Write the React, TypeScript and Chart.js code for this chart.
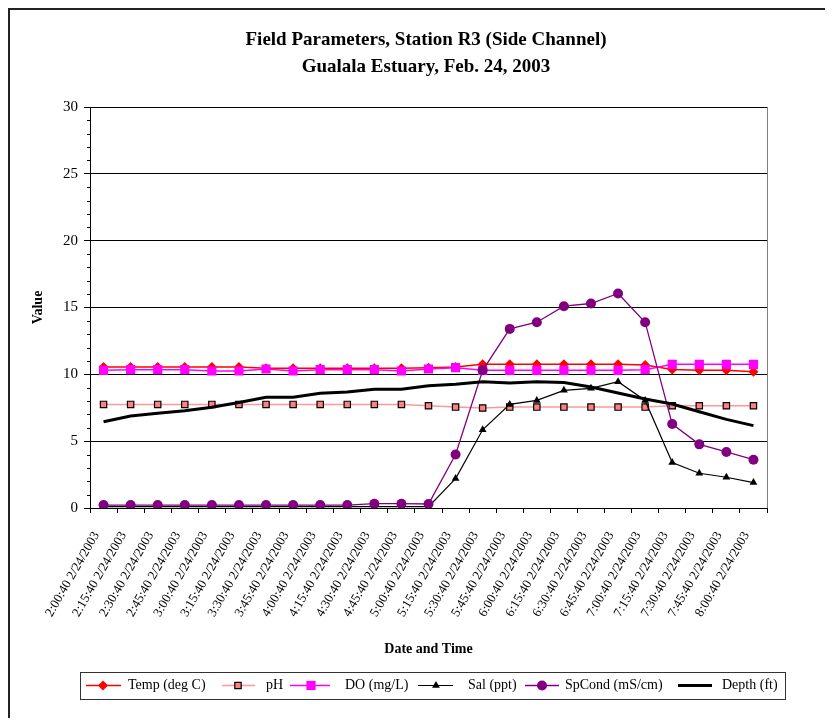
import React, { useEffect, useRef } from 'react';
import { Chart, registerables } from 'chart.js';

Chart.register(...registerables);

const timeLabels = [
  '2:00:40', '2:15:40', '2:30:40', '2:45:40', '3:00:40', '3:15:40', '3:30:40', '3:45:40',
  '4:00:40', '4:15:40', '4:30:40', '4:45:40', '5:00:40', '5:15:40', '5:30:40', '5:45:40',
  '6:00:40', '6:15:40', '6:30:40', '6:45:40', '7:00:40', '7:15:40', '7:30:40', '7:45:40', '8:00:40',
];
const dateLabel = '2/24/2003';
const categories = timeLabels.map((t) => `${t} ${dateLabel}`);

const tempValues = [10.55, 10.55, 10.55, 10.55, 10.55, 10.55, 10.45, 10.45, 10.45, 10.45, 10.45, 10.45, 10.5, 10.55, 10.75, 10.75, 10.75, 10.75, 10.75, 10.75, 10.7, 10.37, 10.3, 10.3, 10.2];
const phValues = [7.75, 7.75, 7.75, 7.75, 7.75, 7.75, 7.75, 7.75, 7.75, 7.75, 7.75, 7.75, 7.65, 7.55, 7.48, 7.55, 7.55, 7.55, 7.55, 7.55, 7.55, 7.65, 7.65, 7.65, 7.65];
const doValues = [10.3, 10.35, 10.35, 10.35, 10.25, 10.25, 10.4, 10.25, 10.35, 10.35, 10.35, 10.25, 10.4, 10.5, 10.3, 10.3, 10.3, 10.3, 10.3, 10.3, 10.35, 10.75, 10.75, 10.75, 10.75];
const salValues = [0.1, 0.1, 0.1, 0.1, 0.1, 0.1, 0.1, 0.1, 0.1, 0.1, 0.1, 0.1, 0.1, 2.2, 5.85, 7.75, 8.05, 8.8, 8.95, 9.45, 8.05, 3.4, 2.6, 2.3, 1.9];
const spCondValues = [0.22, 0.22, 0.22, 0.22, 0.22, 0.22, 0.22, 0.22, 0.22, 0.22, 0.32, 0.32, 0.3, 4.0, 10.3, 13.4, 13.9, 15.1, 15.3, 16.05, 13.9, 6.28, 4.76, 4.19, 3.61];
const depthValues = [6.45, 6.88, 7.08, 7.28, 7.53, 7.9, 8.28, 8.28, 8.58, 8.68, 8.88, 8.88, 9.15, 9.25, 9.45, 9.35, 9.45, 9.38, 9.05, 8.6, 8.15, 7.78, 7.2, 6.63, 6.16];

const yTicks = [0, 5, 10, 15, 20, 25, 30];
const titleLines = ['Field Parameters, Station R3 (Side Channel)', 'Gualala Estuary, Feb. 24, 2003'];
const seriesNames = ['Temp (deg C)', 'pH', 'DO (mg/L)', 'Sal (ppt)', 'SpCond (mS/cm)', 'Depth (ft)'];

const FONT = '"Liberation Serif", "Times New Roman", serif';

// legend layout (canvas coords): sample start, sample end, marker x, text x
const legendItems = [
  { s: 76, e: 111, m: 93, t: 118 },
  { s: 212, e: 245, m: 228, t: 256 },
  { s: 280, e: 320, m: 301, t: 335 },
  { s: 408, e: 443, m: 426, t: 458 },
  { s: 515, e: 549, m: 532, t: 555 },
  { s: 668, e: 702, m: 685, t: 712 },
];

function drawMarker(ctx: CanvasRenderingContext2D, style: string, x: number, y: number, r: number, fill: string, stroke: string, bw: number) {
  ctx.beginPath();
  if (style === 'rectRot') {
    ctx.moveTo(x - r, y); ctx.lineTo(x, y - r); ctx.lineTo(x + r, y); ctx.lineTo(x, y + r); ctx.closePath();
  } else if (style === 'rect') {
    const s = r * Math.SQRT1_2;
    ctx.rect(x - s, y - s, 2 * s, 2 * s);
  } else if (style === 'triangle') {
    ctx.moveTo(x - r * 0.866, y + r * 0.5); ctx.lineTo(x, y - r); ctx.lineTo(x + r * 0.866, y + r * 0.5); ctx.closePath();
  } else if (style === 'circle') {
    ctx.arc(x, y, r, 0, Math.PI * 2);
  }
  ctx.fillStyle = fill; ctx.fill();
  if (bw > 0) { ctx.lineWidth = bw; ctx.strokeStyle = stroke; ctx.stroke(); }
}

const decorPlugin = {
  id: 'decor',
  afterDraw(chart: any) {
    const ctx: CanvasRenderingContext2D = chart.ctx;
    const ca = chart.chartArea;
    ctx.save();
    // right border of plot area
    ctx.strokeStyle = '#808080';
    ctx.lineWidth = 1;
    ctx.beginPath();
    const rx = Math.round(ca.right) + 0.5;
    ctx.moveTo(rx, ca.top); ctx.lineTo(rx, ca.bottom);
    ctx.stroke();
    // minor ticks on y axis
    const ys = chart.scales.y;
    ctx.strokeStyle = '#000';
    ctx.beginPath();
    for (let v = 0; v <= 30; v++) {
      if (yTicks.includes(v)) continue;
      const py = Math.round(ys.getPixelForValue(v)) + 0.5;
      ctx.moveTo(ca.left - 3, py); ctx.lineTo(ca.left, py);
    }
    ctx.stroke();
    // title
    ctx.fillStyle = '#000';
    ctx.textAlign = 'center';
    ctx.textBaseline = 'middle';
    ctx.font = `bold 19px ${FONT}`;
    ctx.fillText(titleLines[0], 416, 30);
    ctx.fillText(titleLines[1], 416, 57);
    // legend box
    ctx.strokeStyle = '#333';
    ctx.lineWidth = 1;
    ctx.strokeRect(70.5, 662.5, 705, 27);
    const ly = 675.5;
    ctx.font = `14px ${FONT}`;
    ctx.textAlign = 'left';
    chart.data.datasets.forEach((ds: any, i: number) => {
      const it = legendItems[i];
      ctx.beginPath();
      ctx.strokeStyle = ds.borderColor;
      ctx.lineWidth = ds.borderWidth;
      ctx.moveTo(it.s, ly); ctx.lineTo(it.e, ly);
      ctx.stroke();
      if (ds.pointRadius > 0) {
        drawMarker(ctx, ds.pointStyle, it.m, ly, ds.pointRadius, ds.pointBackgroundColor, ds.pointBorderColor, ds.pointBorderWidth);
      }
      ctx.fillStyle = '#000';
      ctx.fillText(seriesNames[i], it.t, ly);
    });
    ctx.restore();
  },
};

export default function App() {
  const canvasRef = useRef<HTMLCanvasElement | null>(null);

  useEffect(() => {
    const canvas = canvasRef.current;
    if (!canvas) return;
    const chart = new Chart(canvas, {
      type: 'line',
      data: {
        labels: categories,
        datasets: [
          {
            label: seriesNames[0], data: tempValues, borderColor: '#FF0000', borderWidth: 1.5,
            pointStyle: 'rectRot', pointRadius: 5, pointBackgroundColor: '#FF0000', pointBorderColor: '#FF0000', pointBorderWidth: 0, order: 5,
          },
          {
            label: seriesNames[1], data: phValues, borderColor: '#FF9999', borderWidth: 1.5,
            pointStyle: 'rect', pointRadius: 4.5, pointBackgroundColor: '#FF8080', pointBorderColor: '#000', pointBorderWidth: 1.2, order: 4,
          },
          {
            label: seriesNames[2], data: doValues, borderColor: '#FF00FF', borderWidth: 1.5,
            pointStyle: 'rect', pointRadius: 6.5, pointBackgroundColor: '#FF00FF', pointBorderColor: '#FF00FF', pointBorderWidth: 0, order: 3,
          },
          {
            label: seriesNames[3], data: salValues, borderColor: '#000000', borderWidth: 1.2,
            pointStyle: 'triangle', pointRadius: 4.5, pointBackgroundColor: '#000', pointBorderColor: '#000', pointBorderWidth: 0, order: 2,
          },
          {
            label: seriesNames[4], data: spCondValues, borderColor: '#800080', borderWidth: 1.3,
            pointStyle: 'circle', pointRadius: 5, pointBackgroundColor: '#800080', pointBorderColor: '#800080', pointBorderWidth: 0, order: 1,
          },
          {
            label: seriesNames[5], data: depthValues, borderColor: '#000000', borderWidth: 3,
            pointRadius: 0, pointStyle: 'circle', pointBackgroundColor: '#000', pointBorderColor: '#000', pointBorderWidth: 0, order: 0,
          },
        ],
      },
      options: {
        animation: false,
        responsive: false,
        devicePixelRatio: 1,
        layout: { padding: { top: 97, right: 64, left: 0, bottom: 68 } },
        plugins: {
          legend: { display: false },
          title: { display: false },
          tooltip: { enabled: false },
        },
        elements: { line: { tension: 0 } },
        scales: {
          x: {
            type: 'category',
            offset: true,
            grid: { offset: true, drawOnChartArea: false, drawTicks: true, tickLength: 5, tickColor: '#000' },
            border: { color: '#000', width: 1 },
            ticks: {
              autoSkip: false, minRotation: 60, maxRotation: 60, padding: 16, labelOffset: -7, color: '#000',
              font: { family: FONT, size: 13 },
            },
            title: {
              display: true, text: 'Date and Time', color: '#000',
              font: { family: FONT, size: 14, weight: 'bold' }, padding: { top: 0, bottom: 0 },
            },
            afterFit: (s: any) => { s.height = 150; },
          },
          y: {
            min: 0, max: 30,
            ticks: {
              stepSize: 5, autoSkip: false, padding: 6, color: '#000',
              font: { family: FONT, size: 15 },
            },
            grid: { color: '#000', tickColor: '#000', tickLength: 6, drawTicks: true },
            border: { color: '#000', width: 1 },
            title: {
              display: true, text: 'Value', color: '#000',
              font: { family: FONT, size: 14, weight: 'bold' }, padding: { top: 20, bottom: 0 },
            },
            afterFit: (s: any) => { s.width = 80; },
          },
        },
      } as any,
      plugins: [decorPlugin],
    });
    return () => chart.destroy();
  }, []);

  return (
    <div
      style={{
        width: 821, height: 716, borderTop: '2px solid #222', borderLeft: '2px solid #222',
        marginBottom: -8, background: '#fff',
      }}
    >
      <canvas ref={canvasRef} width={821} height={716} style={{ display: 'block', width: 821, height: 716 }} />
    </div>
  );
}
